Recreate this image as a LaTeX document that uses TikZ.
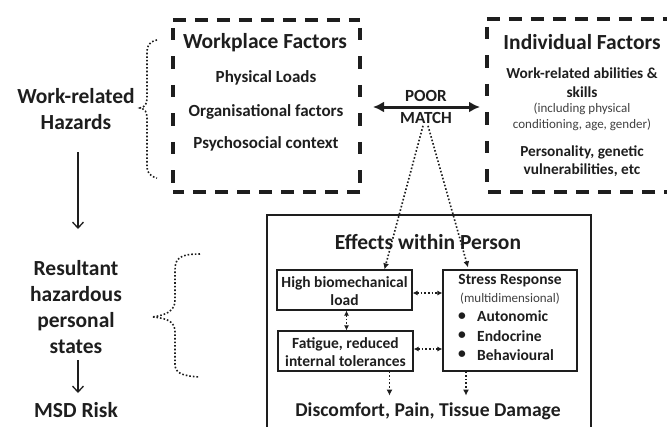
\documentclass[tikz,border=0pt]{standalone}
\usepackage{fontspec}
\setmainfont{Carlito}
\usetikzlibrary{arrows.meta,calc}
\definecolor{ink}{HTML}{1E1E1E}
\tikzset{
  hdash/.style={draw=ink, line width=3.5pt, dash pattern=on 13pt off 9pt},
  vdash/.style={draw=ink, line width=3.5pt, dash pattern=on 12.5pt off 16pt, dash phase=-8pt},
  ibox/.style={draw=ink, line width=1.2pt},
  obox/.style={draw=ink, line width=1.8pt},
  big/.style={font=\bfseries\fontsize{21.5}{26}\selectfont, text=ink, align=center, inner sep=0pt},
  mid/.style={font=\bfseries\fontsize{17}{19}\selectfont, text=ink, align=center, inner sep=0pt},
  ind/.style={font=\bfseries\fontsize{15.3}{18.5}\selectfont, text=ink, align=center, inner sep=0pt},
  sml/.style={font=\fontsize{13}{16}\selectfont, text=ink!85, align=center, inner sep=0pt},
  inb/.style={font=\bfseries\fontsize{15.5}{18.5}\selectfont, text=ink, align=center, inner sep=0pt},
  dotarrow/.style={ink, line width=1.6pt, dotted, -{Latex[length=6pt,width=6pt]}},
  dotboth/.style={ink, line width=1.6pt, dotted, {Latex[length=5pt,width=5pt]}-{Latex[length=5pt,width=5pt]}},
  downarrow/.style={ink, line width=1.3pt, -{Straight Barb[length=6pt,width=11pt]}},
  brace/.style={ink, line width=1.6pt, dotted}
}
\begin{document}
\begin{tikzpicture}[x=1pt,y=-1pt]
\useasboundingbox (0,0) rectangle (667,426);
\clip (0,0) rectangle (667,426);

% dashed boxes
\node[minimum width=187pt, minimum height=172pt, inner sep=0pt] (wf) at (266.5,106) {};
\node[minimum width=190pt, minimum height=173pt, inner sep=0pt] (inf) at (582,105.5) {};
\draw[hdash] (wf.north west) -- (wf.north east);
\draw[hdash] (wf.south east) -- (wf.south west);
\draw[vdash] (wf.north west) -- (wf.south west);
\draw[vdash] (wf.north east) -- (wf.south east);
\draw[hdash] (inf.north west) -- (inf.north east);
\draw[hdash] (inf.south east) -- (inf.south west);
\draw[vdash] (inf.north west) -- (inf.south west);

\node[big] (wft) at (265,43) {Workplace Factors};
\node[mid] (pl) at (266,78) {Physical Loads};
\node[mid] (of) at (266,112) {Organisational factors};
\node[mid] (pc) at (266,144) {Psychosocial context};

\node[big] (ift) at (582,42) {Individual Factors};
\node[ind] (wra) at (582,82.5) {Work-related abilities \&\\skills};
\node[sml] (inc) at (582,117) {(including physical\\conditioning, age, gender)};
\node[ind] (per) at (582,161) {Personality, genetic\\vulnerabilities, etc};

% poor match
\node[mid] (poor) at (426,96) {POOR};
\node[mid] (match) at (426,118) {MATCH};
\coordinate (pmL) at (373,107);
\coordinate (pmR) at (480,107);
\draw[ink, line width=3pt, {Latex[length=11pt,width=11pt]}-{Latex[length=11pt,width=11pt]}] (pmL) -- (pmR);

% left column
\node[big] (wrh) at (76,109) {Work-related\\Hazards};
\node[big] (res) at (76,307) {Resultant\\hazardous\\personal\\states};
\node[big] (msd) at (76,410) {MSD Risk};
\draw[downarrow] (78,152) -- (78,229);
\draw[downarrow] (78,360) -- (78,393);

% braces
\draw[brace] (157,40) .. controls (148,42) and (147,46) .. (147,54)
  -- (147,98) .. controls (147,104) and (145,107) .. (140,108)
  .. controls (145,109) and (147,112) .. (147,118)
  -- (147,166) .. controls (147,172) and (149,176) .. (157,178);
\draw[brace] (200,254) .. controls (180,254) and (175,258) .. (175,270)
  -- (175,300) .. controls (175,310) and (168,315) .. (152,317)
  .. controls (168,318) and (175,322) .. (175,332)
  -- (175,364) .. controls (175,372) and (180,376) .. (200,377);

% effects box
\node[obox, minimum width=324pt, minimum height=226pt] (eff) at (429,328) {};
\node[big] (efft) at (428,242) {Effects within Person};
\node[ibox, minimum width=135pt, minimum height=40pt] (hb) at (344.5,290) {};
\node[inb] (hbt) at (344.5,291) {High biomechanical\\load};
\node[ibox, minimum width=135pt, minimum height=40pt] (fat) at (345.5,351) {};
\node[inb] (fatt) at (345.5,352) {Fatigue, reduced\\internal tolerances};
\node[ibox, minimum width=134pt, minimum height=101pt] (sr) at (510,320.5) {};
\node[inb] (srt) at (510,281) {Stress Response};
\node[sml] (multi) at (510,299) {(multidimensional)};
\node[inb] (b1) at (462,316.5) {\textbullet};
\node[inb, anchor=west] (a1) at (477,316.5) {Autonomic};
\node[inb] (b2) at (462,336) {\textbullet};
\node[inb, anchor=west] (a2) at (477,336) {Endocrine};
\node[inb] (b3) at (462,355) {\textbullet};
\node[inb, anchor=west] (a3) at (477,355) {Behavioural};
\node[font=\bfseries\fontsize{19.6}{22}\selectfont, text=ink, inner sep=0pt] (dis) at (428,411) {Discomfort, Pain, Tissue Damage};

% dotted arrows
\draw[dotarrow] ($(match.south)+(-3,2)$) -- ($(hb.north)+(40,0)$);
\draw[dotarrow] ($(match.south)+(2,2)$) -- ($(sr.north)+(-42,-2)$);
\draw[dotboth] ($(hb.east)+(0,3)$) -- ($(hb.east -| sr.west)+(0,3)$);
\draw[dotboth] ($(fat.east)+(0,-2)$) -- ($(fat.east -| sr.west)+(0,-2)$);
\draw[dotboth] ($(hb.south)+(2,0)$) -- ($(fat.north)+(1,0)$);
\coordinate (d1) at ($(fat.south)+(44,24)$);
\coordinate (d2) at ($(sr.south)+(-44,24)$);
\draw[dotarrow] ($(fat.south)+(44,0)$) -- (d1);
\draw[dotarrow] ($(sr.south)+(-44,0)$) -- (d2);
\end{tikzpicture}
\end{document}
